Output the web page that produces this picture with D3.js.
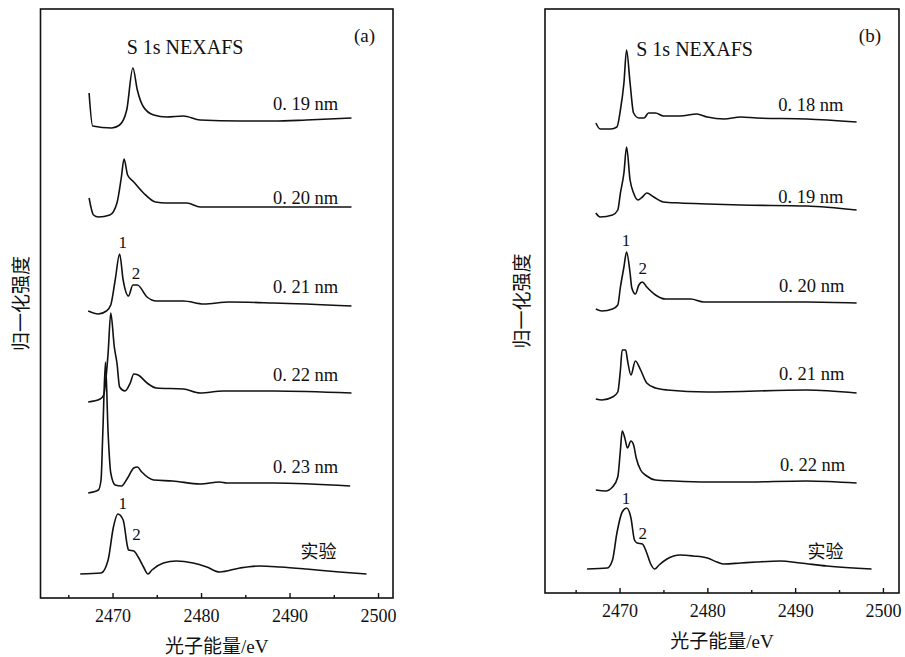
<!DOCTYPE html>
<html><head><meta charset="utf-8">
<script src="https://cdn.jsdelivr.net/npm/d3@7"></script>
<style>
html,body{margin:0;padding:0;background:#fff;}
svg{display:block;}
</style></head>
<body>
<svg id="chart" width="905" height="657"></svg>
<script>
// ---------------- DATA ----------------
// Panel (a): simulated S 1s NEXAFS for different bond lengths + experiment
const a019E = [2467.35,2467.75,2469.9,2470.8,2471.6,2472.3,2472.8,2473.5,2474.65,2476.1,2478.0,2479.9,2484.4,2488.2,2491.9,2497.0];
const a019I = [3.5,0.2,0.0,0.3,1.8,6.0,3.8,2.1,1.3,1.1,1.2,0.8,0.7,0.7,0.8,1.0];
const a020E = [2467.35,2467.85,2468.4,2469.7,2470.5,2471.0,2471.3,2471.7,2472.4,2473.5,2474.85,2476.1,2478.4,2479.9,2484.4,2497.0];
const a020I = [2.0,0.3,0.1,0.3,1.5,4.1,5.9,4.3,3.6,2.5,1.6,1.5,1.5,1.1,1.1,1.1];
const a021E = [2467.25,2468.4,2469.3,2469.8,2470.3,2470.8,2471.2,2471.8,2472.3,2472.8,2473.9,2474.95,2478.0,2480.3,2483.2,2488.2,2497.0];
const a021I = [0.7,0.4,0.7,1.3,3.8,6.4,3.8,2.2,3.3,3.3,2.1,1.7,1.7,1.4,1.6,1.5,1.2];
const a022E = [2467.25,2468.6,2469.0,2469.5,2469.8,2470.2,2470.5,2470.8,2471.4,2472.0,2472.4,2472.9,2473.9,2474.95,2478.0,2479.9,2482.5,2488.2,2497.0];
const a022I = [0.6,0.9,1.3,5.5,9.5,6.1,4.5,2.1,1.7,2.5,3.4,3.3,2.5,2.0,1.9,1.5,1.7,1.7,1.5];
const a023E = [2467.25,2468.4,2468.7,2468.9,2469.2,2469.5,2469.8,2470.3,2471.0,2471.7,2472.4,2472.8,2473.3,2474.65,2476.8,2479.9,2482.1,2482.9,2488.2,2496.85];
const a023I = [0.5,0.8,1.8,6.5,13.6,6.5,2.5,1.3,1.2,2.0,3.0,3.1,2.6,1.8,1.7,1.4,1.6,1.5,1.5,1.2];
const aExpE = [2466.35,2468.7,2469.5,2470.1,2470.6,2471.2,2471.7,2471.8,2472.4,2472.9,2473.5,2474.0,2474.45,2475.75,2477.2,2479.1,2480.65,2482.1,2484.4,2486.65,2488.95,2491.9,2495.65,2498.7];
const aExpI = [0.4,0.5,1.8,5.1,6.4,5.8,3.1,2.8,2.7,2.1,1.1,0.4,0.8,1.5,1.7,1.5,1.1,0.6,1.0,1.2,1.1,0.9,0.6,0.4];
const aLabels = ["0. 19 nm","0. 20 nm","0. 21 nm","0. 22 nm","0. 23 nm","实验"];
const aOffsets = [47, 38, 28, 19, 10, 2];

// Panel (b)
const b018E = [2467.3,2467.8,2469.0,2469.7,2470.1,2470.5,2470.8,2471.2,2471.6,2472.2,2472.8,2473.3,2474.1,2475.0,2476.9,2478.8,2480.0,2481.9,2483.8,2485.6,2491.3,2497.0];
const b018I = [1.0,0.4,0.4,0.6,2.3,5.0,8.3,5.0,2.0,1.5,1.5,2.0,2.0,1.7,1.7,1.9,1.6,1.4,1.6,1.5,1.4,1.1];
const b019E = [2467.3,2467.8,2469.2,2469.8,2470.1,2470.5,2470.8,2471.2,2471.6,2472.1,2472.6,2473.1,2473.9,2475.0,2476.9,2480.0,2483.8,2491.3,2497.0];
const b019I = [1.0,0.6,0.8,1.3,3.0,5.0,7.6,4.3,3.0,2.3,2.6,3.0,2.6,2.1,2.0,1.9,1.8,1.7,1.3];
const b020E = [2467.3,2468.0,2469.2,2469.8,2470.1,2470.5,2470.8,2471.2,2471.4,2471.8,2472.2,2472.6,2473.1,2474.1,2475.2,2478.1,2479.6,2483.8,2491.3,2497.0];
const b020I = [0.4,0.2,0.4,0.8,2.6,4.6,6.1,4.0,2.5,1.9,2.8,3.1,2.6,1.8,1.4,1.4,1.1,1.1,1.1,1.0];
const b021E = [2467.3,2468.0,2469.2,2469.8,2470.1,2470.3,2470.7,2470.9,2471.3,2471.8,2472.4,2473.1,2474.1,2475.4,2480.0,2491.3,2497.0];
const b021I = [0.4,0.3,0.6,1.1,3.3,5.3,5.3,4.3,2.8,4.2,3.3,2.0,1.5,1.3,1.1,1.3,1.0];
const b022E = [2467.3,2468.4,2469.2,2469.8,2470.1,2470.3,2470.6,2470.9,2471.3,2471.6,2471.9,2472.4,2473.1,2474.1,2476.2,2480.0,2483.8,2491.3,2497.0];
const b022I = [0.3,0.2,0.6,1.6,4.3,6.2,5.5,4.5,5.2,4.8,3.5,2.3,1.7,1.3,1.2,1.1,1.1,1.2,1.0];
const bExpE = [2466.3,2468.6,2469.2,2469.7,2470.3,2470.8,2471.3,2471.7,2472.0,2472.6,2473.1,2473.5,2474.0,2474.5,2475.4,2476.9,2478.4,2480.0,2481.1,2481.9,2483.8,2485.6,2488.3,2490.6,2493.6,2498.7];
const bExpI = [0.4,0.5,1.3,4.0,6.1,6.5,5.5,3.3,3.0,2.9,2.0,1.0,0.4,0.8,1.4,1.8,1.7,1.5,1.1,0.9,1.0,1.1,1.2,1.0,0.7,0.4];
const bLabels = ["0. 18 nm","0. 19 nm","0. 20 nm","0. 21 nm","0. 22 nm","实验"];
const bOffsets = [46, 37, 28, 19, 10, 2];

const majorTicks = [2470, 2480, 2490, 2500];
const minorTicks = [2465, 2475, 2485, 2495];
const xTitle = ["光子能量", "/eV"];
const yTitle = "归一化强度";
const headline = "S 1s NEXAFS";

// ---------------- LAYOUT ----------------
const SERIF = '"Liberation Serif", "DejaVu Serif", serif';
const CJK = '"Noto Sans CJK SC", sans-serif';

const panels = [
  { tag: "(a)", left: 40.5, right: 393, top: 9, bottom: 598,
    xDom: [2461.86, 2501.69], yDom: [0, 58.9],
    E: [a019E, a020E, a021E, a022E, a023E, aExpE],
    I: [a019I, a020I, a021I, a022I, a023I, aExpI],
    offsets: aOffsets, labels: aLabels,
    labelEnd: [2495.5, 2495.5, 2495.5, 2495.5, 2495.5, 2495.3],
    labelDy: [1.8, 1.4, 2.5, 2.7, 2.5, 2.0],
    headE: 2471.6, headV: 54.4,
    peakCurves: [2, 5], peak1E: [2471.15, 2471.15], peak1V: [35.0, 8.9],
    peak2E: [2472.65, 2472.7], peak2V: [31.9, 5.8],
    yTitleX: 21 },
  { tag: "(b)", left: 545, right: 899, top: 9, bottom: 593,
    xDom: [2461.51, 2501.83], yDom: [0, 58.4],
    E: [b018E, b019E, b020E, b021E, b022E, bExpE],
    I: [b018I, b019I, b020I, b021I, b022I, bExpI],
    offsets: bOffsets, labels: bLabels,
    labelEnd: [2495.5, 2495.5, 2495.6, 2495.6, 2495.7, 2495.5],
    labelDy: [2.2, 2.0, 2.1, 2.3, 2.2, 1.5],
    headE: 2471.9, headV: 53.7,
    peakCurves: [2, 5], peak1E: [2470.74, 2470.74], peak1V: [34.7, 8.95],
    peak2E: [2472.64, 2472.64], peak2V: [31.9, 5.4],
    yTitleX: 522 }
];

const svg = d3.select("#chart");

panels.forEach(p => {
  const x = d3.scaleLinear().domain(p.xDom).range([p.left, p.right]);
  const y = d3.scaleLinear().domain(p.yDom).range([p.bottom, p.top]);
  const g = svg.append("g");

  // spectra
  const line = d3.line().x(d => x(d[0])).y(d => y(d[1])).curve(d3.curveMonotoneX);
  p.E.forEach((es, k) => {
    const pts = es.map((e, i) => [e, p.I[k][i] + p.offsets[k]]);
    g.append("path").attr("d", line(pts))
      .attr("fill", "none").attr("stroke", "#111").attr("stroke-width", 1.6)
      .attr("stroke-linejoin", "round");
  });

  // frame
  g.append("rect").attr("x", p.left).attr("y", p.top)
    .attr("width", p.right - p.left).attr("height", p.bottom - p.top)
    .attr("fill", "none").attr("stroke", "#111").attr("stroke-width", 1.6);

  // axes: inward ticks
  const ax = g.append("g").attr("transform", `translate(0,${p.bottom})`)
    .call(d3.axisBottom(x).tickValues(majorTicks).tickSize(-5).tickPadding(11).tickFormat(d3.format("d")));
  ax.attr("font-family", null).attr("font-size", null);
  ax.select(".domain").remove();
  ax.selectAll(".tick line").attr("stroke", "#111").attr("stroke-width", 1.4);
  ax.selectAll("text").style("font-family", SERIF).style("font-size", "18px").attr("fill", "#111");
  const axm = g.append("g").attr("transform", `translate(0,${p.bottom})`)
    .call(d3.axisBottom(x).tickValues(minorTicks).tickSize(-3).tickFormat(""));
  axm.select(".domain").remove();
  axm.selectAll(".tick line").attr("stroke", "#111").attr("stroke-width", 1.4);

  // curve labels
  p.labels.forEach((lab, k) => {
    const isCjk = /[\u4e00-\u9fff]/.test(lab);
    g.append("text").attr("x", x(p.labelEnd[k])).attr("y", y(p.offsets[k] + p.labelDy[k]))
      .attr("text-anchor", "end")
      .style("font-family", isCjk ? CJK : SERIF)
      .style("font-size", isCjk ? "18px" : "18.5px").attr("fill", "#111").text(lab);
  });

  // peak labels 1 and 2
  p.peakCurves.forEach((c, j) => {
    g.append("text").attr("x", x(p.peak1E[j])).attr("y", y(p.peak1V[j]))
      .attr("text-anchor", "middle").style("font-family", SERIF).style("font-size", "17px").attr("fill", "#111").text("1");
    g.append("text").attr("x", x(p.peak2E[j])).attr("y", y(p.peak2V[j]))
      .attr("text-anchor", "middle").style("font-family", SERIF).style("font-size", "17px").attr("fill", "#111").text("2");
  });

  // headline
  g.append("text").attr("x", x(p.headE)).attr("y", y(p.headV))
    .style("font-family", SERIF).style("font-size", "20px").attr("fill", "#111").text(headline);

  // panel tag
  g.append("text").attr("x", p.right - 18).attr("y", p.top + 33)
    .attr("text-anchor", "end").style("font-family", SERIF).style("font-size", "19px").attr("fill", "#111").text(p.tag);

  // x title
  const xt = g.append("text").attr("x", (p.left + p.right) / 2).attr("y", p.bottom + 55)
    .attr("text-anchor", "middle").attr("fill", "#111").style("font-size", "19px");
  xt.append("tspan").style("font-family", CJK).text(xTitle[0]);
  xt.append("tspan").style("font-family", SERIF).text(xTitle[1]);

  // y title
  g.append("text").attr("transform", `translate(${p.yTitleX},${(p.top + p.bottom) / 2}) rotate(-90)`)
    .attr("text-anchor", "middle").attr("dy", "0.35em").style("font-family", CJK)
    .style("font-size", "19px").attr("fill", "#111").text(yTitle);
});
</script>
</body></html>
